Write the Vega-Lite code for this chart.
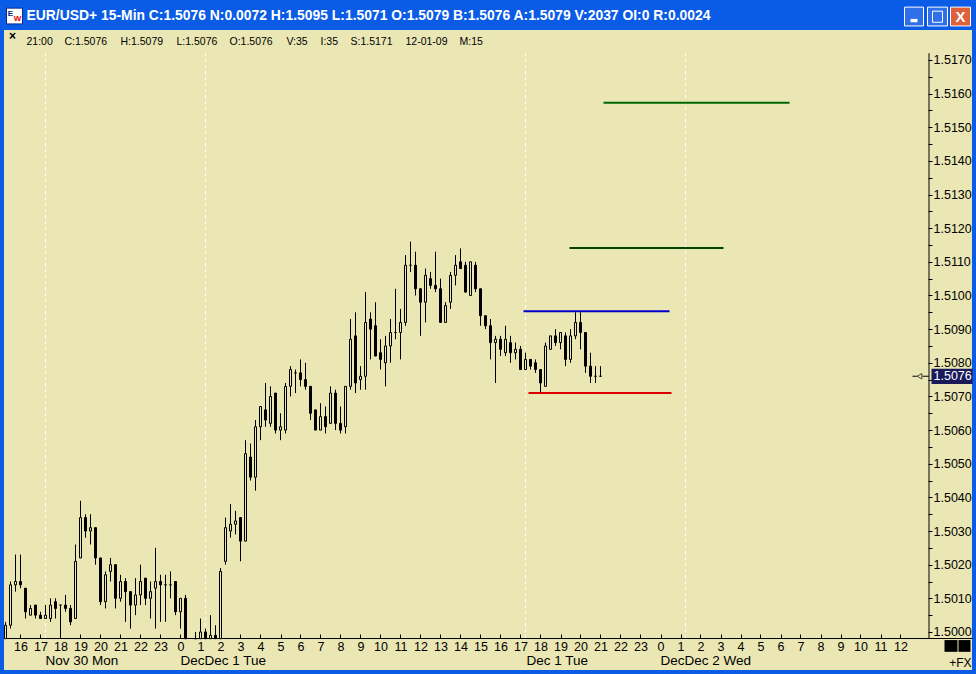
{"$schema":"https://vega.github.io/schema/vega-lite/v6.json","width":968,"height":640,"autosize":"none","padding":{"left":4,"top":30,"right":4,"bottom":4},"background":"#0A5BE6","view":{"fill":"#EAE7B4","stroke":null},"config":{"axis":{"labelOverlap":false,"labelSeparation":0}},
"datasets":{"candles":[
{"t":15.25,"o":1.4998,"h":1.5003,"l":1.4998,"c":1.5002},{"t":15.5,"o":1.5002,"h":1.5015,"l":1.5001,"c":1.5014},{"t":15.75,"o":1.5014,"h":1.5023,"l":1.5012,"c":1.5015},{"t":16,"o":1.5015,"h":1.5023,"l":1.5013,"c":1.5014},{"t":16.25,"o":1.5013,"h":1.5013,"l":1.5004,"c":1.5006},{"t":16.5,"o":1.5005,"h":1.5008,"l":1.5005,"c":1.5007},{"t":16.75,"o":1.5008,"h":1.5008,"l":1.5004,"c":1.5005},{"t":17,"o":1.5005,"h":1.5006,"l":1.5004,"c":1.5004},{"t":17.25,"o":1.5004,"h":1.5008,"l":1.5004,"c":1.5005},{"t":17.5,"o":1.5004,"h":1.501,"l":1.5003,"c":1.5008},{"t":17.75,"o":1.5009,"h":1.501,"l":1.5004,"c":1.5007},{"t":18,"o":1.5008,"h":1.5008,"l":1.4999,"c":1.5008},{"t":18.25,"o":1.5008,"h":1.5011,"l":1.5006,"c":1.5007},{"t":18.5,"o":1.5007,"h":1.5008,"l":1.5002,"c":1.5003},{"t":18.75,"o":1.5004,"h":1.5026,"l":1.5004,"c":1.5021},{"t":19,"o":1.5022,"h":1.5039,"l":1.5022,"c":1.5034},{"t":19.25,"o":1.5034,"h":1.5035,"l":1.5028,"c":1.503},{"t":19.5,"o":1.503,"h":1.5035,"l":1.5026,"c":1.5031},{"t":19.75,"o":1.5031,"h":1.5031,"l":1.502,"c":1.5022},{"t":20,"o":1.5022,"h":1.5022,"l":1.5008,"c":1.5009},{"t":20.25,"o":1.5009,"h":1.5018,"l":1.5007,"c":1.5017},{"t":20.5,"o":1.5018,"h":1.5022,"l":1.5015,"c":1.502},{"t":20.75,"o":1.502,"h":1.502,"l":1.5007,"c":1.501},{"t":21,"o":1.501,"h":1.5017,"l":1.5009,"c":1.5015},{"t":21.25,"o":1.5015,"h":1.5016,"l":1.5003,"c":1.5012},{"t":21.5,"o":1.5012,"h":1.5012,"l":1.5001,"c":1.5008},{"t":21.75,"o":1.5008,"h":1.5016,"l":1.5005,"c":1.5011},{"t":22,"o":1.5011,"h":1.502,"l":1.5008,"c":1.5015},{"t":22.25,"o":1.5016,"h":1.5016,"l":1.5008,"c":1.501},{"t":22.5,"o":1.501,"h":1.5015,"l":1.5004,"c":1.5012},{"t":22.75,"o":1.5013,"h":1.5025,"l":1.5001,"c":1.5015},{"t":23,"o":1.5015,"h":1.5017,"l":1.5003,"c":1.5014},{"t":23.25,"o":1.5014,"h":1.5017,"l":1.5003,"c":1.5014},{"t":23.5,"o":1.5014,"h":1.5018,"l":1.501,"c":1.5014},{"t":23.75,"o":1.5015,"h":1.5015,"l":1.5005,"c":1.5006},{"t":24,"o":1.5006,"h":1.501,"l":1.5001,"c":1.501},{"t":24.25,"o":1.501,"h":1.5011,"l":1.4998,"c":1.4998},{"t":24.75,"o":1.4998,"h":1.5,"l":1.4998,"c":1.4998},{"t":25,"o":1.4998,"h":1.5004,"l":1.4998,"c":1.5},{"t":25.25,"o":1.5,"h":1.5001,"l":1.4998,"c":1.4998},{"t":25.5,"o":1.4998,"h":1.5005,"l":1.4998,"c":1.4999},{"t":25.75,"o":1.4999,"h":1.5002,"l":1.4998,"c":1.4998},{"t":26,"o":1.4998,"h":1.5019,"l":1.4998,"c":1.5018},{"t":26.25,"o":1.5021,"h":1.5034,"l":1.502,"c":1.5031},{"t":26.5,"o":1.503,"h":1.5038,"l":1.5028,"c":1.5032},{"t":26.75,"o":1.5032,"h":1.5036,"l":1.5029,"c":1.5033},{"t":27,"o":1.5034,"h":1.5034,"l":1.5021,"c":1.5027},{"t":27.25,"o":1.5027,"h":1.5057,"l":1.5027,"c":1.5053},{"t":27.5,"o":1.5052,"h":1.5056,"l":1.5045,"c":1.5046},{"t":27.75,"o":1.5046,"h":1.5063,"l":1.5042,"c":1.5061},{"t":28,"o":1.5061,"h":1.5067,"l":1.5057,"c":1.5067},{"t":28.25,"o":1.5066,"h":1.5074,"l":1.5061,"c":1.5063},{"t":28.5,"o":1.5062,"h":1.5073,"l":1.5061,"c":1.507},{"t":28.75,"o":1.5071,"h":1.5071,"l":1.5059,"c":1.506},{"t":29,"o":1.506,"h":1.5065,"l":1.5057,"c":1.5061},{"t":29.25,"o":1.506,"h":1.5074,"l":1.5059,"c":1.5073},{"t":29.5,"o":1.5073,"h":1.5079,"l":1.507,"c":1.5078},{"t":29.75,"o":1.5077,"h":1.5078,"l":1.5071,"c":1.5077},{"t":30,"o":1.5077,"h":1.5081,"l":1.5073,"c":1.5075},{"t":30.25,"o":1.5075,"h":1.508,"l":1.5072,"c":1.5073},{"t":30.5,"o":1.5073,"h":1.5073,"l":1.5063,"c":1.5065},{"t":30.75,"o":1.5066,"h":1.5066,"l":1.506,"c":1.506},{"t":31,"o":1.506,"h":1.5068,"l":1.506,"c":1.5064},{"t":31.25,"o":1.5064,"h":1.5067,"l":1.5059,"c":1.5061},{"t":31.5,"o":1.5062,"h":1.5073,"l":1.5062,"c":1.5071},{"t":31.75,"o":1.5071,"h":1.5072,"l":1.506,"c":1.5062},{"t":32,"o":1.5062,"h":1.5067,"l":1.5059,"c":1.506},{"t":32.25,"o":1.5061,"h":1.5073,"l":1.5059,"c":1.5073},{"t":32.5,"o":1.5073,"h":1.5093,"l":1.5072,"c":1.5087},{"t":32.75,"o":1.5088,"h":1.5095,"l":1.5071,"c":1.5074},{"t":33,"o":1.5075,"h":1.5079,"l":1.5072,"c":1.5076},{"t":33.25,"o":1.5076,"h":1.5101,"l":1.5072,"c":1.5092},{"t":33.5,"o":1.5093,"h":1.5095,"l":1.5081,"c":1.509},{"t":33.75,"o":1.5091,"h":1.5098,"l":1.5082,"c":1.5082},{"t":34,"o":1.5083,"h":1.5087,"l":1.5078,"c":1.5081},{"t":34.25,"o":1.508,"h":1.5088,"l":1.5073,"c":1.5085},{"t":34.5,"o":1.5085,"h":1.5093,"l":1.508,"c":1.5089},{"t":34.75,"o":1.5089,"h":1.5102,"l":1.5087,"c":1.5089},{"t":35,"o":1.5089,"h":1.5096,"l":1.5081,"c":1.5092},{"t":35.25,"o":1.5092,"h":1.5112,"l":1.5091,"c":1.5109},{"t":35.5,"o":1.5109,"h":1.5116,"l":1.5107,"c":1.5109},{"t":35.75,"o":1.5109,"h":1.5113,"l":1.51,"c":1.5102},{"t":36,"o":1.5102,"h":1.5102,"l":1.5088,"c":1.5098},{"t":36.25,"o":1.5098,"h":1.5108,"l":1.5092,"c":1.5106},{"t":36.5,"o":1.5105,"h":1.5107,"l":1.5102,"c":1.5103},{"t":36.75,"o":1.5103,"h":1.5113,"l":1.5101,"c":1.5102},{"t":37,"o":1.5102,"h":1.5105,"l":1.5092,"c":1.5092},{"t":37.25,"o":1.5092,"h":1.5098,"l":1.5092,"c":1.5097},{"t":37.5,"o":1.5098,"h":1.5107,"l":1.5096,"c":1.5106},{"t":37.75,"o":1.5106,"h":1.5112,"l":1.5103,"c":1.5109},{"t":38,"o":1.511,"h":1.5114,"l":1.5108,"c":1.5108},{"t":38.25,"o":1.5109,"h":1.511,"l":1.5101,"c":1.5101},{"t":38.5,"o":1.51,"h":1.511,"l":1.51,"c":1.511},{"t":38.75,"o":1.5109,"h":1.511,"l":1.5101,"c":1.5102},{"t":39,"o":1.5102,"h":1.5102,"l":1.5091,"c":1.5094},{"t":39.25,"o":1.5094,"h":1.5094,"l":1.509,"c":1.5091},{"t":39.5,"o":1.5091,"h":1.5093,"l":1.5081,"c":1.5086},{"t":39.75,"o":1.5086,"h":1.5088,"l":1.5074,"c":1.5087},{"t":40,"o":1.5087,"h":1.5088,"l":1.5082,"c":1.5084},{"t":40.25,"o":1.5083,"h":1.5091,"l":1.5082,"c":1.5087},{"t":40.5,"o":1.5086,"h":1.5088,"l":1.508,"c":1.5083},{"t":40.75,"o":1.5083,"h":1.5086,"l":1.5081,"c":1.5084},{"t":41,"o":1.5084,"h":1.5085,"l":1.5078,"c":1.5078},{"t":41.25,"o":1.5078,"h":1.5083,"l":1.5078,"c":1.5081},{"t":41.5,"o":1.5081,"h":1.5081,"l":1.5078,"c":1.5079},{"t":41.75,"o":1.508,"h":1.5081,"l":1.5077,"c":1.5078},{"t":42,"o":1.5078,"h":1.5078,"l":1.5071,"c":1.5074},{"t":42.25,"o":1.5073,"h":1.5086,"l":1.5073,"c":1.5085},{"t":42.5,"o":1.5084,"h":1.5088,"l":1.5084,"c":1.5088},{"t":42.75,"o":1.5088,"h":1.509,"l":1.5085,"c":1.5086},{"t":43,"o":1.5086,"h":1.5089,"l":1.5084,"c":1.5089},{"t":43.25,"o":1.5088,"h":1.5089,"l":1.5079,"c":1.5081},{"t":43.5,"o":1.5081,"h":1.509,"l":1.508,"c":1.5088},{"t":43.75,"o":1.5088,"h":1.5095,"l":1.5087,"c":1.5092},{"t":44,"o":1.5092,"h":1.5095,"l":1.5084,"c":1.5089},{"t":44.25,"o":1.5089,"h":1.5089,"l":1.5077,"c":1.5079},{"t":44.5,"o":1.5079,"h":1.5083,"l":1.5074,"c":1.5076},{"t":44.75,"o":1.5076,"h":1.5079,"l":1.5074,"c":1.5076},{"t":45,"o":1.5076,"h":1.5079,"l":1.5076,"c":1.5076}],
"levels":[{"a":45.15,"b":54.45,"p":1.51573,"col":"g1"},{"a":43.45,"b":51.15,"p":1.51141,"col":"g2"},{"a":41.15,"b":48.45,"p":1.50953,"col":"blue"},{"a":41.4,"b":48.55,"p":1.5071,"col":"red"}],
"seps":[{"t":17.25},{"t":25.25},{"t":41.25},{"t":49.25}],
"info":[{"t":16.3,"label":"21:00"},{"t":18.2,"label":"C:1.5076"},{"t":21,"label":"H:1.5079"},{"t":23.8,"label":"L:1.5076"},{"t":26.45,"label":"O:1.5076"},{"t":29.3,"label":"V:35"},{"t":31,"label":"I:35"},{"t":32.5,"label":"S:1.5171"},{"t":35.25,"label":"12-01-09"},{"t":37.95,"label":"M:15"}],
"days":[{"t":17.25,"label":"Nov 30 Mon"},{"t":24,"label":"DecDec 1 Tue"},{"t":41.3,"label":"Dec 1 Tue"},{"t":48,"label":"DecDec 2 Wed"}]},
"data":{"name":"candles"},
"layer":[
{"data":{"name":"seps"},"mark":{"type":"rule","color":"#FFFFFF","strokeDash":[3,3],"size":1},"encoding":{"x":{"field":"t","type":"quantitative","scale":{"domain":[15.175,63.575],"nice":false,"zero":false,"padding":0},"axis":{"tickCount":48,"labelExpr":"datum.value>60?'':datum.value%24","tickOpacity":{"condition":{"test":"datum.value>60","value":0},"value":1},"offset":-32,"orient":"bottom","title":null,"grid":false,"tickSize":-4,"labelPadding":6,"labelFont":"Liberation Sans","labelFontSize":12.5,"labelColor":"#000000","tickColor":"#000000","domainColor":"#000000","labelFlush":false,"labelOverlap":false,"labelBound":false,"labelSeparation":0}},"y":{"datum":1.5172,"type":"quantitative","scale":{"domain":[1.49887,1.51789],"nice":false,"zero":false},"axis":{"tickCount":38,"labelExpr":"(round(datum.value*10000)%10==0&&datum.value>1.4999&&datum.value<1.5171)?format(datum.value,'.4f'):''","tickOpacity":{"condition":{"test":"datum.value<1.4999||datum.value>1.5171","value":0},"value":1},"offset":-44,"orient":"right","title":null,"grid":false,"domain":false,"tickSize":4,"labelPadding":1,"labelFont":"Liberation Sans","labelFontSize":12.5,"labelColor":"#000000","tickColor":"#000000","labelOverlap":false,"labelBound":false,"labelFlush":false,"labelSeparation":0}},"y2":{"datum":1.49982}}},
{"mark":{"type":"rule","color":"#000000","size":1},"encoding":{"x":{"field":"t","type":"quantitative"},"y":{"field":"l","type":"quantitative"},"y2":{"field":"h"}}},
{"mark":{"type":"bar","size":2,"stroke":"#000000","strokeWidth":1,"orient":"vertical"},"encoding":{"x":{"field":"t","type":"quantitative"},"y":{"field":"o","type":"quantitative"},"y2":{"field":"c"},"fill":{"condition":{"test":"datum.c>=datum.o","value":"#EAE7B4"},"value":"#000000"}}},
{"data":{"name":"levels"},"mark":{"type":"rule","size":2},"encoding":{"x":{"field":"a","type":"quantitative"},"x2":{"field":"b"},"y":{"field":"p","type":"quantitative"},"color":{"field":"col","type":"nominal","legend":null,"scale":{"domain":["g1","g2","blue","red"],"range":["#006600","#004400","#0000CC","#DD0000"]}}}},
{"data":{"values":[{}]},"mark":{"type":"rule","color":"#000000","size":1},"encoding":{"x":{"datum":61.425},"y":{"datum":1.5172},"y2":{"datum":1.49982}}},
{"data":{"name":"info"},"mark":{"type":"text","align":"left","font":"Liberation Sans","fontSize":10.5,"color":"#000000"},"encoding":{"x":{"field":"t","type":"quantitative"},"y":{"datum":1.51753},"text":{"field":"label"}}},
{"data":{"name":"days"},"mark":{"type":"text","align":"left","font":"Liberation Sans","fontSize":13.5,"color":"#000000"},"encoding":{"x":{"field":"t","type":"quantitative"},"y":{"datum":1.49914},"text":{"field":"label"}}},
{"data":{"values":[{"a":61.55,"b":63.6}]},"mark":{"type":"rect","color":"#1A1A5A"},"encoding":{"x":{"field":"a","type":"quantitative"},"x2":{"field":"b"},"y":{"datum":1.50782},"y2":{"datum":1.50737}}},
{"data":{"values":[{"label":"1.5076"}]},"mark":{"type":"text","align":"left","font":"Liberation Sans","fontSize":12.5,"color":"#FFFFFF"},"encoding":{"x":{"datum":61.65},"y":{"datum":1.5076},"text":{"field":"label"}}},
{"data":{"values":[{}]},"mark":{"type":"point","shape":"triangle-left","size":30,"color":"#000000","filled":false,"strokeWidth":1},"encoding":{"x":{"datum":60.95},"y":{"datum":1.5076}}},
{"data":{"values":[{}]},"mark":{"type":"rule","color":"#000000","size":1},"encoding":{"x":{"datum":61.1},"x2":{"datum":61.42},"y":{"datum":1.5076}}},
{"data":{"values":[{}]},"mark":{"type":"rule","color":"#000000","size":1},"encoding":{"x":{"datum":60.6},"x2":{"datum":60.82},"y":{"datum":1.5076}}},
{"data":{"values":[{"a":62.2,"b":62.85},{"a":62.9,"b":63.5}]},"mark":{"type":"rect","color":"#000000"},"encoding":{"x":{"field":"a","type":"quantitative"},"x2":{"field":"b"},"y":{"datum":1.49976},"y2":{"datum":1.49941}}},
{"data":{"values":[{"label":"+FX"}]},"mark":{"type":"text","align":"right","font":"Liberation Sans","fontSize":12,"color":"#000000"},"encoding":{"x":{"datum":63.55},"y":{"datum":1.49908},"text":{"field":"label"}}},
{"data":{"values":[{"label":"×"}]},"mark":{"type":"text","font":"Liberation Sans","fontSize":12,"fontWeight":"bold","color":"#000000"},"encoding":{"x":{"datum":15.6},"y":{"datum":1.5177},"text":{"field":"label"}}},
{"data":{"values":[{"label":"EUR/USD+ 15-Min C:1.5076 N:0.0072 H:1.5095 L:1.5071 O:1.5079 B:1.5076 A:1.5079 V:2037 OI:0 R:0.0024"}]},"mark":{"type":"text","align":"left","font":"Liberation Sans","fontSize":13.9,"fontWeight":"bold","color":"#FFFFFF"},"encoding":{"x":{"datum":16.3},"y":{"datum":1.5183},"text":{"field":"label"}}},
{"data":{"values":[{"a":60.2,"b":61.15},{"a":61.35,"b":62.35}]},"mark":{"type":"rect","color":"#2F6FE8","stroke":"#FFFFFF","strokeWidth":1},"encoding":{"x":{"field":"a","type":"quantitative"},"x2":{"field":"b"},"y":{"datum":1.51857},"y2":{"datum":1.51801}}},
{"data":{"values":[{"a":62.5,"b":63.5}]},"mark":{"type":"rect","color":"#E0603A","stroke":"#FFFFFF","strokeWidth":1},"encoding":{"x":{"field":"a","type":"quantitative"},"x2":{"field":"b"},"y":{"datum":1.51857},"y2":{"datum":1.51801}}},
{"data":{"values":[{"a":60.5,"b":60.85}]},"mark":{"type":"rect","color":"#FFFFFF"},"encoding":{"x":{"field":"a","type":"quantitative"},"x2":{"field":"b"},"y":{"datum":1.51822},"y2":{"datum":1.51812}}},
{"data":{"values":[{"a":61.6,"b":62.1}]},"mark":{"type":"rect","fillOpacity":0,"stroke":"#FFFFFF","strokeWidth":1},"encoding":{"x":{"field":"a","type":"quantitative"},"x2":{"field":"b"},"y":{"datum":1.51845},"y2":{"datum":1.51812}}},
{"data":{"values":[{"label":"X"}]},"mark":{"type":"text","font":"Liberation Sans","fontSize":15,"fontWeight":"bold","color":"#FFFFFF"},"encoding":{"x":{"datum":63},"y":{"datum":1.51829},"text":{"field":"label"}}},
{"data":{"values":[{"a":15.3,"b":16.1}]},"mark":{"type":"rect","color":"#FFFFFF","stroke":"#0A2A8A","strokeWidth":1},"encoding":{"x":{"field":"a","type":"quantitative"},"x2":{"field":"b"},"y":{"datum":1.51854},"y2":{"datum":1.51807}}},
{"data":{"values":[{"label":"E"}]},"mark":{"type":"text","font":"Liberation Sans","fontSize":8,"fontWeight":"bold","color":"#0A2A8A"},"encoding":{"x":{"datum":15.5},"y":{"datum":1.51838},"text":{"field":"label"}}},
{"data":{"values":[{"label":"W"}]},"mark":{"type":"text","font":"Liberation Sans","fontSize":8,"fontWeight":"bold","color":"#DD0000"},"encoding":{"x":{"datum":15.85},"y":{"datum":1.51822},"text":{"field":"label"}}}
],
"resolve":{"scale":{"color":"independent"}}}
